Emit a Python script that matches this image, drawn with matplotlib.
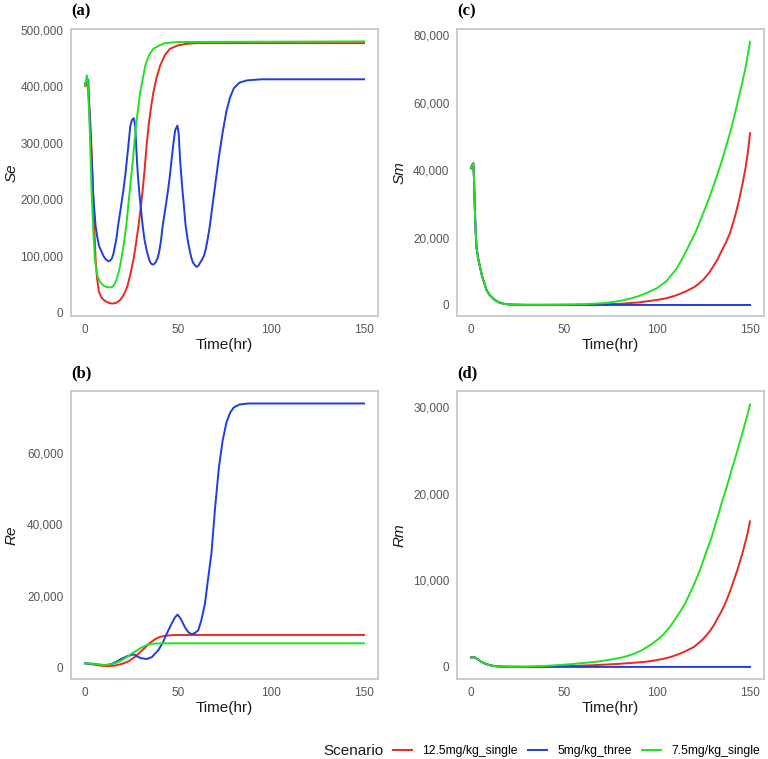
import numpy as np
import matplotlib
matplotlib.use("Agg")
import matplotlib.pyplot as plt
from matplotlib.ticker import FuncFormatter
from matplotlib.lines import Line2D

plt.rcParams['font.family'] = ['Liberation Sans', 'DejaVu Sans']

# all values in thousands of cells
scenarios = ["12.5mg/kg_single", "5mg/kg_three", "7.5mg/kg_single"]
colors = ["#e8291e", "#1f3de0", "#22e022"]

# ---- (a) Se ----
se_red_t = [0, 0.7, 1.2, 2, 3, 3.7, 4.3, 5, 5.7, 6.5, 7.5, 9, 11, 13, 14.6, 16.5, 18.5, 20, 21.7, 23,
            24.5, 26.2, 27.5, 28.8, 30, 31, 32, 33, 34.2, 35.5, 36.8, 38.5, 40.4, 43, 45.7, 50, 55, 60, 150]
se_red_v = [400, 402, 405, 380, 330, 275, 212, 150, 95, 60, 36, 25, 19, 16, 15, 16, 20, 26, 36, 48,
            68, 95, 123, 153, 185, 215, 250, 290, 330, 362, 389, 415, 436, 455, 466, 472, 475, 476, 476]
se_blue_t = [0, 0.8, 1.8, 2.7, 3.6, 4.6, 5.7, 6.5, 7.5, 8.9, 10, 11, 12.5, 13.5, 14.5, 15.3, 16, 17,
             17.8, 19.2, 20.5, 21.6, 22.6, 23.5, 24.4, 25.3, 26.2, 27, 27.9, 28.5, 29.2, 30, 31, 32,
             33.3, 34.8, 35.5, 36.3, 37.2, 38, 39, 39.8, 40.8, 41.8, 43.2, 44.5, 45.6, 46.6, 47.6,
             48.5, 49.7, 50.4, 51.1, 51.8, 52.5, 53.3, 54.1, 55.2, 56.4, 57.2, 58, 59, 60, 61, 62, 63,
             64, 65, 66, 67, 68, 70, 72, 74, 76, 78, 80, 83, 87, 95, 150]
se_blue_v = [404, 408, 411, 330, 271, 200, 153, 135, 118, 107, 99, 94, 90, 91, 95, 103, 115, 132,
             153, 183, 212, 240, 271, 300, 330, 340, 343, 330, 271, 240, 212, 185, 153, 128,
             107, 90, 86, 84, 85, 88, 95, 105, 125, 153, 183, 212, 240, 271, 300,
             322, 330, 315, 271, 240, 212, 183, 153, 128, 107, 96, 88, 83, 80, 82, 88, 93,
             100, 112, 130, 150, 175, 225, 275, 318, 355, 380, 396, 406, 410, 412, 412]
se_green_t = [0, 1, 1.5, 2.5, 3.6, 4.4, 5.3, 6.2, 7.1, 8, 9, 10, 11, 12, 13.2, 14.2, 15, 16, 17, 18.5,
              19.6, 21, 22.2, 24, 25.8, 27.4, 29.7, 32.4, 34.5, 36.8, 40, 43, 50, 150]
se_green_v = [400, 419, 410, 330, 212, 150, 95, 72, 60, 54, 50, 47, 45, 44, 43.6, 44, 45, 50, 58, 75,
              95, 123, 153, 212, 271, 330, 389, 436, 455, 466, 472, 476, 478, 479]

# ---- (b) Re ----
re_red_t = [0, 4, 8, 12, 16, 20, 23.5, 27, 30, 32.4, 35, 37.7, 40, 43, 47, 55, 150]
re_red_v = [1.05, 0.75, 0.4, 0.25, 0.4, 0.9, 1.6, 2.9, 4.3, 5.5, 6.8, 7.8, 8.4, 8.75, 8.95, 9.0, 9.0]
re_blue_t = [0, 4, 8, 11, 14, 17, 19.9, 23, 26.2, 28, 30, 33.3, 36, 39.5, 42, 44, 46.6, 48.5, 49.8,
             51.5, 53.7, 55.5, 57.3, 59, 60.9, 62.5, 64.5, 66, 68, 70, 72, 74, 76, 78, 80, 83, 88, 150]
re_blue_v = [1.05, 0.9, 0.65, 0.56, 0.8, 1.5, 2.4, 3.1, 3.55, 3.0, 2.5, 2.24, 2.8, 4.75, 7.0, 9.4, 12.2,
             14.0, 14.7, 13.5, 11.2, 9.8, 9.2, 9.5, 10.3, 13, 17.8, 24, 32, 45, 56, 63.5, 68.5, 71.3,
             72.8, 73.6, 73.9, 73.9]
re_green_t = [0, 4, 8, 11, 14, 17, 19.9, 22.5, 25.3, 28, 30.6, 33, 35.1, 38, 45, 150]
re_green_v = [1.05, 0.9, 0.6, 0.55, 0.75, 1.2, 1.95, 2.8, 3.8, 4.7, 5.5, 6.1, 6.45, 6.6, 6.65, 6.65]

# ---- (c) Sm ----
sm_red_t = [0, 0.6, 1.25, 1.6, 2, 2.5, 3, 3.8, 4.8, 6, 8.4, 10, 12.8, 15, 18, 22, 30, 50, 60, 70, 80,
            90, 100, 105, 110, 115, 120, 122.5, 125, 127.7, 130.2, 132.5, 134.7, 137, 139.2, 141.8,
            144.1, 146, 147.7, 149, 150]
sm_red_v = [40.5, 41.5, 42, 38, 30, 22, 17, 14, 11.4, 8.5, 4.4, 3.0, 1.5, 0.8, 0.3, 0.1, 0.05, 0.07,
            0.12, 0.2, 0.35, 0.75, 1.5, 2.0, 2.8, 3.9, 5.3, 6.3, 7.6, 9.3, 11.4, 13.5, 16, 18.5, 21.3,
            26, 31.1, 36, 41, 46, 50.9]
sm_blue_t = [0, 0.6, 1.25, 1.6, 2, 2.5, 3, 3.8, 4.8, 6, 8.4, 10, 12.8, 15, 18, 22, 30, 150]
sm_blue_v = [40.5, 41.5, 42, 38, 30, 22, 17, 14, 11.4, 8.5, 4.4, 3.0, 1.5, 0.8, 0.3, 0.1, 0.02, 0.0]
sm_green_t = [0, 0.6, 1.25, 1.6, 2, 2.5, 3, 3.8, 4.8, 6, 8.4, 10, 12.8, 15, 18, 22, 30, 40, 50, 60, 70,
              75, 80, 85, 90, 95, 100, 105, 110.7, 115, 120.5, 124, 127.6, 130.8, 133.9, 136.6, 139.2,
              141.5, 143.6, 145.7, 147.7, 150]
sm_green_v = [40.5, 41.5, 42, 38, 30, 22, 17, 14, 11.4, 8.5, 4.4, 3.0, 1.5, 0.8, 0.3, 0.1, 0.05, 0.06,
              0.1, 0.2, 0.5, 0.8, 1.2, 1.8, 2.6, 3.7, 5.0, 7.0, 10.9, 15.2, 21.3, 26, 31.1, 36, 41, 46,
              50.9, 55.8, 60.7, 65.6, 70.6, 78]

# ---- (d) Rm ----
rm_red_t = [0, 1, 2.2, 4, 5.5, 7.5, 10, 12.8, 16, 20, 30, 50, 65, 78.6, 87, 94.6, 100, 104, 107.2,
            110, 113, 116.5, 119.7, 122, 124.4, 126.5, 128.6, 130.6, 132.5, 134.6, 136.6, 138.4, 140,
            141.6, 143.2, 144.6, 146, 147.1, 148.2, 149.1, 150]
rm_red_v = [1.1, 1.12, 1.1, 0.85, 0.6, 0.4, 0.22, 0.1, 0.05, 0.03, 0.02, 0.1, 0.2, 0.35, 0.48, 0.62,
            0.8, 0.97, 1.15, 1.35, 1.6, 1.95, 2.3, 2.7, 3.15, 3.65, 4.2, 4.85, 5.6, 6.4, 7.3, 8.25,
            9.2, 10.2, 11.2, 12.2, 13.2, 14.1, 15, 15.9, 16.8]
rm_blue_t = [0, 1, 2.2, 4, 5.5, 7.5, 10, 12.8, 16, 20, 30, 150]
rm_blue_v = [1.1, 1.12, 1.1, 0.85, 0.6, 0.4, 0.22, 0.1, 0.05, 0.03, 0.01, 0.01]
rm_green_t = [0, 1, 2.2, 4, 5.5, 7.5, 10, 12.8, 16, 20, 30, 40, 47, 53.8, 60, 68, 75, 82.2, 88, 91.5,
              94.6, 97.5, 100, 102.7, 105.3, 107.7, 110, 112.6, 115.1, 117, 119, 121, 123.1, 124.6,
              126, 127.7, 129.4, 130.7, 132, 133.4, 134.7, 136.1, 137.5, 138.8, 140, 141.4, 142.7,
              144, 145.4, 146.6, 147.8, 149, 150]
rm_green_v = [1.1, 1.12, 1.1, 0.85, 0.6, 0.4, 0.22, 0.1, 0.05, 0.03, 0.04, 0.12, 0.22, 0.33, 0.45,
              0.62, 0.85, 1.15, 1.55, 1.9, 2.3, 2.7, 3.1, 3.6, 4.2, 4.85, 5.6, 6.45, 7.3, 8.2, 9.1,
              10.1, 11.2, 12.1, 13.0, 14.0, 15, 15.95, 16.9, 17.9, 18.9, 19.85, 20.8, 21.75, 22.7,
              23.65, 24.6, 25.6, 26.6, 27.55, 28.5, 29.4, 30.3]

panels = [
    ("(a)", "Se", [(se_red_t, se_red_v), (se_blue_t, se_blue_v), (se_green_t, se_green_v)],
     [71, 29, 378, 316], (-7000, 501000), np.arange(0, 500001, 100000)),
    ("(c)", "Sm", [(sm_red_t, sm_red_v), (sm_blue_t, sm_blue_v), (sm_green_t, sm_green_v)],
     [457, 29, 764, 316], (-3260, 81780), np.arange(0, 80001, 20000)),
    ("(b)", "Re", [(re_red_t, re_red_v), (re_blue_t, re_blue_v), (re_green_t, re_green_v)],
     [71, 391, 378, 679], (-3360, 77400), np.arange(0, 60001, 20000)),
    ("(d)", "Rm", [(rm_red_t, rm_red_v), (rm_blue_t, rm_blue_v), (rm_green_t, rm_green_v)],
     [457, 391, 764, 679], (-1385, 31850), np.arange(0, 30001, 10000)),
]

W, H = 768, 759
fig = plt.figure(figsize=(W / 100, H / 100), dpi=100)

for letter, ylab, series, box, ylim, yticks in panels:
    l, t, r, b = box
    ax = fig.add_axes([l / W, 1 - b / H, (r - l) / W, (b - t) / H])
    for (tt, vv), c in zip(series, colors):
        ax.plot(tt, np.array(vv) * 1000, color=c, lw=1.4, solid_joinstyle="round")
    ax.set_xlim(-7.5, 157.5)
    ax.set_ylim(*ylim)
    ax.set_xticks([0, 50, 100, 150])
    ax.set_yticks(yticks)
    ax.yaxis.set_major_formatter(FuncFormatter(lambda v, p: f"{int(v):,}"))
    ax.tick_params(length=0, labelsize=8.5, labelcolor="#555555", pad=5.5)
    for s in ax.spines.values():
        s.set_color("#c8c8c8")
        s.set_linewidth(1.3)
    ax.set_xlabel("Time(hr)", fontsize=11, color="#1a1a1a", labelpad=2)
    ax.set_ylabel(ylab, fontsize=11, style="italic", color="#1a1a1a")
    # anchor is the right side of the rotated label
    ax.yaxis.set_label_coords(((19 if l < 200 else 407) - l) / (r - l), 0.5)
    fig.text(l / W, 1 - (t - 18) / H, letter, fontsize=12, fontweight="bold",
             family="Liberation Serif", ha="left", va="center")

fig.text(323 / W, 1 - 751 / H, "Scenario", fontsize=11, color="#1a1a1a", ha="left", va="center")
handles = [Line2D([], [], color=c, lw=1.4) for c in colors]
fig.legend(handles, scenarios, loc="center left", bbox_to_anchor=(393 / W, 1 - 751 / H),
           ncol=3, frameon=False, fontsize=8.7, handlelength=1.6, handletextpad=0.85,
           columnspacing=0.8, borderpad=0, borderaxespad=0)

fig.savefig("out.png", dpi=100, facecolor="white")
